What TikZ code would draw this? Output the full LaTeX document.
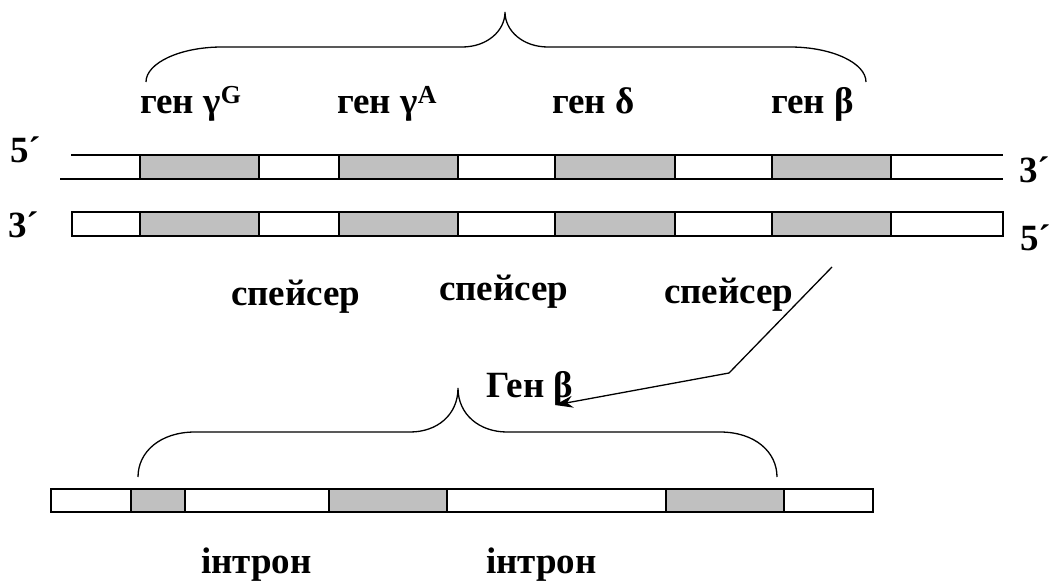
\documentclass[tikz,border=0pt]{standalone}
\usepackage{fontspec}
\setmainfont{Liberation Serif}
\usetikzlibrary{arrows.meta}
\definecolor{exongray}{RGB}{192,192,192}
\begin{document}
\begin{tikzpicture}[x=1pt,y=-1pt,
  strand/.style={line width=1.6pt},
  exon/.style={line width=1.6pt, fill=exongray},
  brace/.style={line width=1.3pt},
  lbl/.style={font=\fontsize{37}{42}\selectfont\bfseries, inner sep=0pt, anchor=base west},
  link/.style={line width=1.3pt, -{Stealth[length=18pt,width=12pt]}}
]
\useasboundingbox (0,0) rectangle (1054,581);

% upper double strand: open coding strand
\draw[strand] (71,155) -- (1003,155);
\draw[strand] (60,179) -- (1003,179);
\foreach \a/\b in {140/259,339/458,555/675,772/891}
  \draw[exon] (\a,155) rectangle (\b,179);

% template strand
\draw[strand] (72,212) rectangle (1003,236);
\foreach \a/\b in {140/259,339/458,555/675,772/891}
  \draw[exon] (\a,212) rectangle (\b,236);

% strand ends
\node[lbl] (l5) at (10,162) {5´};
\node[lbl] (l3) at (8,237) {3´};
\node[lbl] (r3) at (1019,182) {3´};
\node[lbl] (r5) at (1020,250) {5´};

% brace over the gene cluster
\draw[brace] (146,82) .. controls (146,63) and (180,47) .. (222,47)
  -- (462,47) .. controls (487,47) and (505,31) .. (505,12)
  .. controls (505,31) and (523,47) .. (548,47)
  -- (790,47) .. controls (832,47) and (866,63) .. (866,82);

% gene labels
\node[lbl] (gG) at (140,113) {ген γ\textsuperscript{G}};
\node[lbl] (gA) at (337,113) {ген γ\textsuperscript{A}};
\node[lbl] (gd) at (552,113) {ген δ};
\node[lbl] (gb) at (771,113) {ген β};

% spacer labels
\node[lbl] (s1) at (231,305) {спейсер};
\node[lbl] (s2) at (439,300) {спейсер};
\node[lbl] (s3) at (664,303) {спейсер};

% pointer from the beta gene to its enlarged structure
\coordinate (from) at (832,267);
\coordinate (bend) at (729,373);
\coordinate (to) at (555,405);
\draw[link] (from) -- (bend) -- (to);

\node[lbl] (Gb) at (486,397) {Ген β};

% brace over the beta gene
\draw[brace] (138,477) .. controls (138,452) and (160,432) .. (195,432)
  -- (410,432) .. controls (437,432) and (458,415) .. (458,388)
  .. controls (458,415) and (480,432) .. (507,432)
  -- (720,432) .. controls (755,432) and (777,452) .. (777,477);

% beta gene: exons and introns
\draw[strand] (51,489) rectangle (873,512);
\foreach \a/\b in {131/185,329/447,666/784}
  \draw[exon] (\a,489) rectangle (\b,512);

\node[lbl] (i1) at (201,573) {інтрон};
\node[lbl] (i2) at (486,573) {інтрон};
\end{tikzpicture}
\end{document}
